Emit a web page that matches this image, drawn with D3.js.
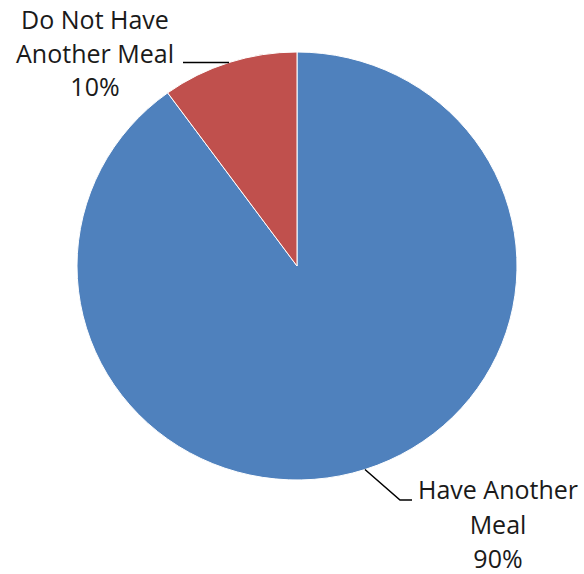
<!DOCTYPE html>
<html>
<head>
<meta charset="utf-8">
<script src="https://cdn.jsdelivr.net/npm/d3@7"></script>
<style>
  html, body { margin: 0; padding: 0; background: #fff; }
  text { font-family: "Open Sans", sans-serif; fill: #1a1a1a; }
</style>
</head>
<body>
<svg id="chart" width="584" height="574"></svg>
<script>
// Share of respondents who have another meal
const categories = ["Have Another Meal", "Do Not Have Another Meal"];
const values = [90, 10];
const colors = ["#4F81BD", "#C0504D"];
// Label lines, one array per slice
const labelLines = [["Have Another", "Meal", "90%"], ["Do Not Have", "Another Meal", "10%"]];

const svg = d3.select("#chart");
const cx = 297, cy = 266, rx = 220, ry = 214;

const pie = d3.pie().sort(null).value(d => d)(values);
const arc = d3.arc().innerRadius(0).outerRadius(rx);

const g = svg.append("g")
  .attr("transform", `translate(${cx},${cy}) scale(1,${ry / rx})`);

g.selectAll("path")
  .data(pie)
  .join("path")
  .attr("d", arc)
  .attr("fill", (d, i) => colors[i])
  .attr("stroke", "#fff")
  .attr("stroke-width", 1)
  .attr("vector-effect", "non-scaling-stroke");

// Point on the pie rim at a slice's middle angle
function rimPoint(d) {
  const a = (d.startAngle + d.endAngle) / 2;
  return [cx + rx * Math.sin(a), cy - ry * Math.cos(a)];
}

const fontSize = 25;

// Big slice: label below right
{
  const [x0, y0] = rimPoint(pie[0]);
  svg.append("path")
    .attr("d", `M${x0},${y0} L400,500 L412,500`)
    .attr("fill", "none").attr("stroke", "#000").attr("stroke-width", 1.5);
  const t = svg.append("text").attr("text-anchor", "middle").style("font-size", fontSize + "px");
  labelLines[0].forEach((s, i) => {
    t.append("tspan").attr("x", 498).attr("y", 499 + i * 34.5).text(s);
  });
}

// Small slice: label upper left
{
  const [x0, y0] = rimPoint(pie[1]);
  svg.append("path")
    .attr("d", `M${x0},${y0} L183,${y0}`)
    .attr("fill", "none").attr("stroke", "#000").attr("stroke-width", 1.5);
  const t = svg.append("text").attr("text-anchor", "middle").style("font-size", fontSize + "px");
  labelLines[1].forEach((s, i) => {
    t.append("tspan").attr("x", 95).attr("y", 29 + i * 33.5).text(s);
  });
}
</script>
</body>
</html>
